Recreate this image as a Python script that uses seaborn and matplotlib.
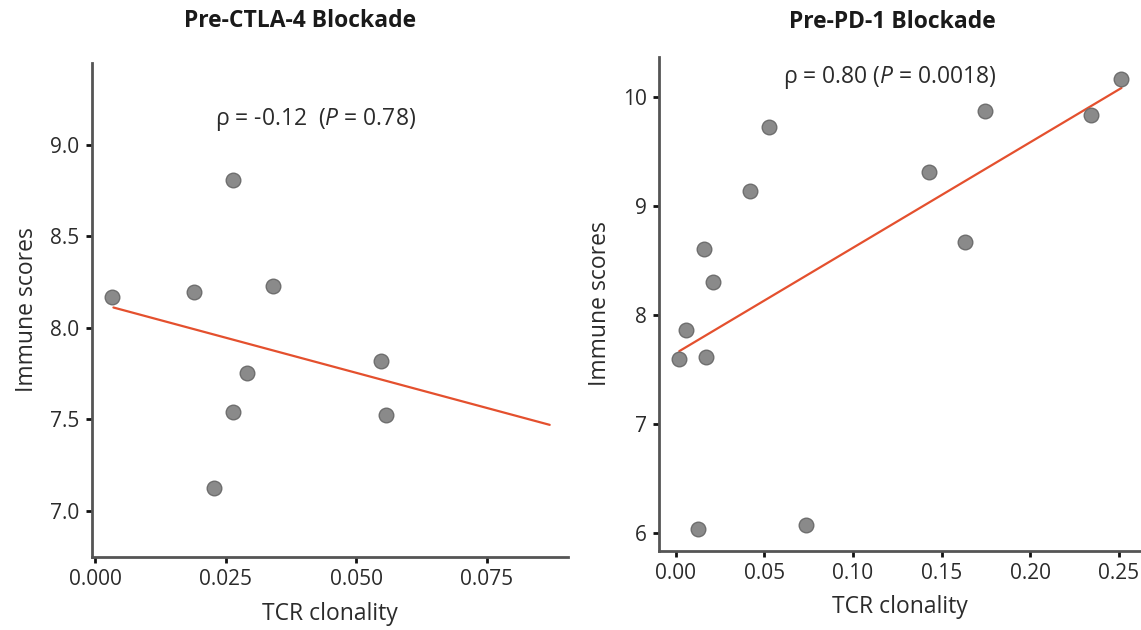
import numpy as np
import pandas as pd
import matplotlib
matplotlib.use("Agg")
import matplotlib.pyplot as plt
import seaborn as sns

# ---- data ----
ctla4_tcr = [0.0032, 0.0189, 0.0264, 0.0341, 0.0548, 0.0291, 0.0263, 0.0557, 0.0227]
ctla4_immune = [8.17, 8.196, 8.804, 8.229, 7.816, 7.755, 7.538, 7.526, 7.123]

pd1_tcr = [0.002, 0.0059, 0.0162, 0.0172, 0.021, 0.0126, 0.0417, 0.0528, 0.0737,
           0.1431, 0.1634, 0.1745, 0.2344, 0.2514]
pd1_immune = [7.593, 7.862, 8.60, 7.61, 8.297, 6.041, 9.134, 9.72, 6.072,
              9.31, 8.666, 9.872, 9.834, 10.166]

titles = ["Pre-CTLA-4 Blockade", "Pre-PD-1 Blockade"]
annots = [r"ρ = -0.12  ($\mathit{P}$ = 0.78)", r"ρ = 0.80 ($\mathit{P}$ = 0.0018)"]
xticks_left = [0.000, 0.025, 0.050, 0.075]
xticklabels_left = ["0.000", "0.025", "0.050", "0.075"]
yticks_left = [7.0, 7.5, 8.0, 8.5, 9.0]
yticklabels_left = ["7.0", "7.5", "8.0", "8.5", "9.0"]
xticks_right = [0.00, 0.05, 0.10, 0.15, 0.20, 0.25]
xticklabels_right = ["0.00", "0.05", "0.10", "0.15", "0.20", "0.25"]
yticks_right = [6, 7, 8, 9, 10]
yticklabels_right = ["6", "7", "8", "9", "10"]

sns.set_theme(style="ticks")
plt.rcParams["font.family"] = ["Open Sans", "DejaVu Sans"]
plt.rcParams["mathtext.fontset"] = "custom"
plt.rcParams["mathtext.rm"] = "Open Sans"
plt.rcParams["mathtext.it"] = "Open Sans:italic"

fig = plt.figure(figsize=(11.41, 6.30), dpi=100)
ax1 = fig.add_axes([0.0804, 0.1159, 0.4174, 0.7841])
ax2 = fig.add_axes([0.5776, 0.1259, 0.4224, 0.7841])

axis_col = "#555555"
text_col = "#2b2b2b"
pt_kws = dict(s=110, color="#8a8a8a", edgecolor="#6e6e6e", linewidths=1.0, alpha=1, zorder=3)
line_kws = dict(color="#E4502E", linewidth=1.6, zorder=2)

df1 = pd.DataFrame({"tcr": ctla4_tcr, "imm": ctla4_immune})
df2 = pd.DataFrame({"tcr": pd1_tcr, "imm": pd1_immune})

# left: fitted line extends to 0.087
ax1.set_xlim(0.0035, 0.087)
ax1.set_ylim(6.749, 9.445)
sns.regplot(data=df1, x="tcr", y="imm", ax=ax1, ci=None, truncate=False,
            scatter_kws=pt_kws, line_kws=line_kws)
ax1.set_xlim(-0.00065, 0.0905)

sns.regplot(data=df2, x="tcr", y="imm", ax=ax2, ci=None, truncate=True,
            scatter_kws=pt_kws, line_kws=line_kws)
ax2.set_xlim(-0.0094, 0.2624)
ax2.set_ylim(5.838, 10.367)

for ax, xt, xtl, yt, ytl in [(ax1, xticks_left, xticklabels_left, yticks_left, yticklabels_left),
                             (ax2, xticks_right, xticklabels_right, yticks_right, yticklabels_right)]:
    ax.set_xticks(xt)
    ax.set_xticklabels(xtl)
    ax.set_yticks(yt)
    ax.set_yticklabels(ytl)
    for s in ["top", "right"]:
        ax.spines[s].set_visible(False)
    for s in ["left", "bottom"]:
        ax.spines[s].set_color(axis_col)
        ax.spines[s].set_linewidth(2.0)
    ax.tick_params(axis="both", length=4, width=2, color="#111111",
                   labelsize=15, labelcolor=text_col, pad=5)
    ax.set_xlabel("TCR clonality", fontsize=16.5, color=text_col, labelpad=8)
    ax.set_ylabel("Immune scores", fontsize=16.5, color=text_col, labelpad=8)
    ax.set_facecolor("white")

ax1.text(0.469, 0.885, annots[0], transform=ax1.transAxes, ha="center", va="center",
         fontsize=16.5, color=text_col)
ax2.text(0.479, 0.957, annots[1], transform=ax2.transAxes, ha="center", va="center",
         fontsize=16.5, color=text_col)

fig.text(300 / 1141, 1 - 21 / 630, titles[0], ha="center", va="center",
         fontsize=16.5, fontweight="bold", color="#1a1a1a")
fig.text(892 / 1141, 1 - 22 / 630, titles[1], ha="center", va="center",
         fontsize=16.5, fontweight="bold", color="#1a1a1a")

fig.savefig("out.png", dpi=100, facecolor="white")
